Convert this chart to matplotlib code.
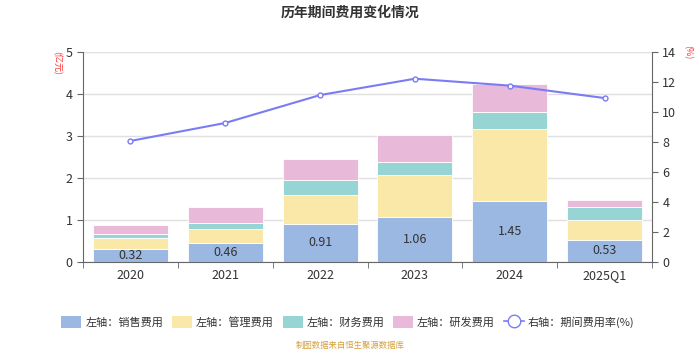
import numpy as np
import matplotlib
matplotlib.use("Agg")
import matplotlib.pyplot as plt
from matplotlib.lines import Line2D
from matplotlib.patches import Patch

plt.rcParams['font.family'] = ['Noto Sans CJK SC', 'DejaVu Sans']

# 数据
years = ['2020', '2021', '2022', '2023', '2024', '2025Q1']
sales = [0.32, 0.46, 0.91, 1.06, 1.45, 0.53]
admin = [0.24, 0.33, 0.685, 1.00, 1.71, 0.47]
finance = [0.10, 0.15, 0.36, 0.33, 0.41, 0.30]
rnd = [0.22, 0.37, 0.49, 0.63, 0.66, 0.17]
rate = [8.07, 9.27, 11.13, 12.22, 11.76, 10.93]

C_SALES = '#9bb8e3'
C_ADMIN = '#f9e8a8'
C_FIN = '#96d5d4'
C_RND = '#e8b9d9'
C_LINE = '#7b7bf5'
AX_COLOR = '#666666'

fig = plt.figure(figsize=(7, 3.5), dpi=100)
ax = fig.add_axes([0.1186, 0.2514, 0.8128, 0.6])
ax2 = ax.twinx()

x = np.arange(len(years))
w = 0.79
bottom = np.zeros(len(years))
for vals, c in [(sales, C_SALES), (admin, C_ADMIN), (finance, C_FIN), (rnd, C_RND)]:
    ax.bar(x, vals, w, bottom=bottom, color=c, edgecolor='white', linewidth=0.6, zorder=2)
    bottom += np.array(vals)

for xi, v in zip(x, sales):
    ax.text(xi, v / 2, f'{v:.2f}', ha='center', va='center', fontsize=9, color='#333333', zorder=3)

ax2.plot(x, rate, color=C_LINE, linewidth=1.5, marker='o', markersize=3.5,
         markerfacecolor='white', markeredgecolor=C_LINE, markeredgewidth=1, zorder=4)

ax.set_xlim(-0.5, len(years) - 0.5)
ax.set_ylim(0, 5)
ax.set_yticks(range(0, 6))
ax2.set_ylim(0, 14)
ax2.set_yticks(range(0, 15, 2))

ax.yaxis.grid(True, color='#e0e0e0', linewidth=1, zorder=0)
ax.set_axisbelow(True)

# x轴刻度在类目之间
ax.set_xticks(x)
ax.set_xticklabels(years, fontsize=9, color='#333333')
ax.tick_params(axis='x', length=0, pad=5)
ax.set_xticks(np.arange(-0.5, len(years), 1), minor=True)
ax.tick_params(axis='x', which='minor', length=4, color=AX_COLOR)

ax.tick_params(axis='y', labelsize=9, colors='#333333', length=4, color=AX_COLOR)
ax2.tick_params(axis='y', labelsize=9, colors='#333333', length=4, color=AX_COLOR)

for a in (ax, ax2):
    a.spines['top'].set_visible(False)
    for s in ('left', 'right', 'bottom'):
        a.spines[s].set_color(AX_COLOR)
ax.spines['right'].set_visible(False)
ax2.spines['left'].set_visible(False)
ax2.spines['bottom'].set_visible(False)

fig.text(0.5, 0.965, '历年期间费用变化情况', ha='center', va='center', fontsize=10, fontweight='bold', color='#333333')
fig.text(0.081, 0.82, '(亿元)', ha='center', va='center', rotation=-90, fontsize=6.5, color='#ff3333')
fig.text(0.982, 0.85, '(%)', ha='center', va='center', rotation=-90, fontsize=6.5, color='#ff3333')

handles = [
    Patch(facecolor=C_SALES, edgecolor='none'),
    Patch(facecolor=C_ADMIN, edgecolor='none'),
    Patch(facecolor=C_FIN, edgecolor='none'),
    Patch(facecolor=C_RND, edgecolor='none'),
    Line2D([0], [0], color=C_LINE, marker='o', markersize=9, markerfacecolor='white',
           markeredgecolor=C_LINE, linewidth=1.2),
]
labels = ['左轴：销售费用', '左轴：管理费用', '左轴：财务费用', '左轴：研发费用', '右轴：期间费用率(%)']
fig.legend(handles, labels, loc='center', bbox_to_anchor=(0.497, 0.08), ncol=5, frameon=False,
           fontsize=8, handlelength=1.8, handleheight=1.2, handletextpad=0.35, columnspacing=0.8,
           labelcolor='#333333')

fig.text(0.5, 0.013, '制图数据来自恒生聚源数据库', ha='center', va='center', fontsize=6, color='#d4a03c')

fig.savefig('out.png', dpi=100)
